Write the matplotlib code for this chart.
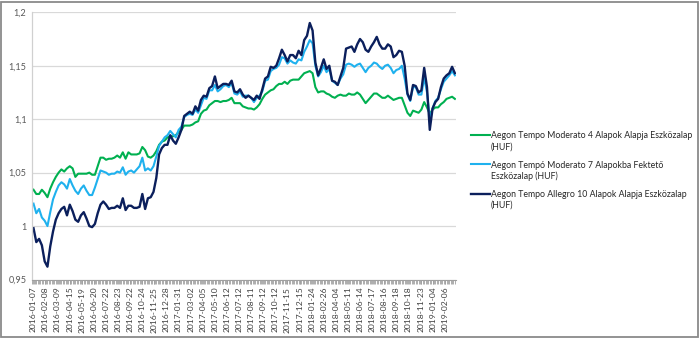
import numpy as np
import matplotlib
matplotlib.use("Agg")
import matplotlib.pyplot as plt
from matplotlib.ticker import FixedLocator, MultipleLocator
from matplotlib.lines import Line2D
from matplotlib.patches import Rectangle

plt.rcParams["font.family"] = ["Lato", "DejaVu Sans"]

# Category labels shown on the x axis (every ~22nd trading day)
date_labels = [
    "2016-01-07", "2016-02-08", "2016-03-09", "2016-04-15", "2016-05-19",
    "2016-06-20", "2016-07-22", "2016-08-23", "2016-09-22", "2016-10-24",
    "2016-11-25", "2016-12-28", "2017-01-31", "2017-03-02", "2017-04-05",
    "2017-05-10", "2017-06-12", "2017-07-12", "2017-08-11", "2017-09-12",
    "2017-10-12", "2017-11-15", "2017-12-15", "2018-01-24", "2018-02-26",
    "2018-04-04", "2018-05-11", "2018-06-14", "2018-07-17", "2018-08-16",
    "2018-09-18", "2018-10-18", "2018-11-23", "2019-01-04", "2019-02-06",
]

series_names = [
    "Aegon Tempo Moderato 4 Alapok Alapja Eszközalap\n(HUF)",
    "Aegon Tempó Moderato 7 Alapokba Fektető\nEszközalap (HUF)",
    "Aegon Tempo Allegro 10 Alapok Alapja Eszközalap\n(HUF)",
]

moderato4 = [
    1.034, 1.030, 1.030, 1.034, 1.031, 1.027, 1.035, 1.041, 1.046, 1.050,
    1.053, 1.051, 1.054, 1.056, 1.054, 1.046, 1.049, 1.049, 1.049, 1.049,
    1.050, 1.048, 1.048, 1.056, 1.064, 1.064, 1.062, 1.063, 1.063, 1.064,
    1.066, 1.064, 1.069, 1.063, 1.069, 1.067, 1.067, 1.067, 1.068, 1.074,
    1.071, 1.065, 1.064, 1.066, 1.070, 1.076, 1.079, 1.080, 1.083, 1.084,
    1.084, 1.085, 1.088, 1.090, 1.094, 1.094, 1.094, 1.095, 1.097, 1.098,
    1.105, 1.108, 1.109, 1.113, 1.115, 1.117, 1.117, 1.116, 1.117, 1.117,
    1.118, 1.120, 1.115, 1.115, 1.115, 1.112, 1.111, 1.110, 1.110, 1.109,
    1.111, 1.114, 1.119, 1.123, 1.125, 1.127, 1.128, 1.131, 1.133, 1.133,
    1.135, 1.133, 1.136, 1.137, 1.137, 1.137, 1.140, 1.143, 1.144, 1.145,
    1.143, 1.130, 1.125, 1.126, 1.126, 1.124, 1.123, 1.121, 1.120, 1.122,
    1.123, 1.122, 1.122, 1.124, 1.123, 1.123, 1.125, 1.123, 1.119, 1.115,
    1.118, 1.121, 1.124, 1.124, 1.122, 1.120, 1.120, 1.122, 1.120, 1.118,
    1.119, 1.120, 1.120, 1.113, 1.106, 1.103, 1.108, 1.107, 1.106, 1.109,
    1.116, 1.111, 1.105, 1.109, 1.111, 1.111, 1.114, 1.116, 1.119, 1.120,
    1.121, 1.119,
]

moderato7 = [
    1.021, 1.012, 1.016, 1.008, 1.005, 1.000, 1.013, 1.025, 1.032, 1.038,
    1.041, 1.039, 1.035, 1.044, 1.038, 1.033, 1.030, 1.035, 1.038, 1.033,
    1.029, 1.029, 1.036, 1.044, 1.052, 1.051, 1.050, 1.048, 1.049, 1.049,
    1.051, 1.050, 1.055, 1.048, 1.051, 1.052, 1.050, 1.053, 1.056, 1.064,
    1.052, 1.054, 1.052, 1.056, 1.065, 1.075, 1.079, 1.083, 1.085, 1.089,
    1.086, 1.083, 1.090, 1.093, 1.102, 1.104, 1.105, 1.104, 1.109, 1.106,
    1.113, 1.120, 1.119, 1.127, 1.127, 1.132, 1.126, 1.128, 1.131, 1.132,
    1.130, 1.134, 1.124, 1.123, 1.126, 1.121, 1.122, 1.122, 1.120, 1.116,
    1.120, 1.122, 1.126, 1.136, 1.137, 1.145, 1.147, 1.148, 1.151, 1.158,
    1.157, 1.152, 1.155, 1.153, 1.152, 1.156, 1.155, 1.163, 1.168, 1.174,
    1.171, 1.150, 1.140, 1.144, 1.150, 1.144, 1.147, 1.136, 1.134, 1.132,
    1.138, 1.142, 1.151, 1.152, 1.151, 1.149, 1.151, 1.152, 1.148, 1.144,
    1.148, 1.150, 1.153, 1.152, 1.149, 1.147, 1.150, 1.151, 1.148, 1.143,
    1.146, 1.147, 1.150, 1.138, 1.123, 1.117, 1.130, 1.130, 1.123, 1.123,
    1.139, 1.125, 1.100, 1.110, 1.117, 1.120, 1.128, 1.135, 1.138, 1.141,
    1.145, 1.141,
]

allegro10 = [
    0.998, 0.985, 0.988, 0.982, 0.967, 0.962, 0.981, 0.995, 1.006, 1.012,
    1.016, 1.018, 1.010, 1.020, 1.014, 1.006, 1.004, 1.010, 1.013, 1.007,
    1.000, 0.999, 1.002, 1.012, 1.020, 1.023, 1.020, 1.016, 1.017, 1.017,
    1.019, 1.017, 1.026, 1.015, 1.019, 1.019, 1.017, 1.017, 1.018, 1.030,
    1.016, 1.026, 1.027, 1.032, 1.045, 1.067, 1.073, 1.076, 1.076, 1.085,
    1.080, 1.077, 1.083, 1.090, 1.103, 1.105, 1.107, 1.105, 1.112, 1.108,
    1.118, 1.122, 1.121, 1.129, 1.131, 1.140, 1.129, 1.131, 1.133, 1.133,
    1.132, 1.136, 1.126, 1.125, 1.128, 1.123, 1.120, 1.122, 1.120, 1.118,
    1.122, 1.119, 1.128, 1.138, 1.140, 1.149, 1.148, 1.150, 1.157, 1.165,
    1.160, 1.154, 1.160, 1.160, 1.157, 1.164, 1.160, 1.174, 1.178, 1.190,
    1.183, 1.153, 1.141, 1.148, 1.156, 1.147, 1.150, 1.136, 1.135, 1.132,
    1.140, 1.148, 1.166, 1.167, 1.168, 1.163, 1.170, 1.175, 1.172, 1.165,
    1.163, 1.168, 1.172, 1.177, 1.170, 1.166, 1.166, 1.170, 1.168, 1.158,
    1.160, 1.164, 1.163, 1.150, 1.124, 1.118, 1.132, 1.131, 1.125, 1.127,
    1.148, 1.130, 1.090, 1.110, 1.116, 1.119, 1.130, 1.138, 1.141, 1.143,
    1.149, 1.143,
]

y_ticks = [0.95, 1.0, 1.05, 1.1, 1.15, 1.2]
y_tick_labels = ["0,95", "1", "1,05", "1,1", "1,15", "1,2"]

colors = ["#00b050", "#1fb1ee", "#0b1f5c"]
widths = [1.5, 1.5, 1.7]

# weekly samples per category-label step
SAMPLES_PER_LABEL = 4.337

fig = plt.figure(figsize=(7.0, 3.38), dpi=100)
ax = fig.add_axes([32 / 700, 1 - 279.5 / 338, 424 / 700, 267.2 / 338])

x = np.arange(len(allegro10))
for vals, c, lw in zip([moderato4, moderato7, allegro10], colors, widths):
    ax.plot(x, vals, color=c, lw=lw, solid_joinstyle="round")

ax.set_xlim(-0.54, len(allegro10) - 0.6)
ax.set_ylim(0.95, 1.2)

ax.set_yticks(y_ticks)
ax.set_yticklabels(y_tick_labels)
ax.yaxis.grid(True, color="#d9d9d9", lw=0.9)
ax.set_axisbelow(True)
ax.tick_params(axis="y", length=0, pad=4, labelsize=6.6, labelcolor="#595959")

tick_pos = np.arange(len(date_labels)) * SAMPLES_PER_LABEL - 0.07
ax.xaxis.set_major_locator(FixedLocator(tick_pos))
ax.set_xticklabels(date_labels, rotation=90)
ax.xaxis.set_minor_locator(MultipleLocator(0.5))
ax.tick_params(axis="x", which="both", length=3.2, width=0.6, color="#a0a0a0",
               labelsize=6.1, labelcolor="#404040", pad=2)

for s in ["top", "right"]:
    ax.spines[s].set_visible(False)
ax.spines["left"].set_color("#d0d0d0")
ax.spines["left"].set_linewidth(0.9)
ax.spines["bottom"].set_color("#a0a0a0")
ax.spines["bottom"].set_linewidth(0.8)

# legend to the right of the plot area, each label line placed separately
leg_x0, leg_x1, leg_tx = 471 / 700, 490 / 700, 491 / 700
leg_y = [135, 164, 193.5]
line_gap = 10.8
for name, c, lw, yy in zip(series_names, colors, widths, leg_y):
    yf = 1 - yy / 338
    fig.add_artist(Line2D([leg_x0, leg_x1], [yf, yf], color=c, lw=lw,
                          transform=fig.transFigure))
    for k, part in enumerate(name.split("\n")):
        fig.text(leg_tx, 1 - (yy + k * line_gap) / 338, part, ha="left",
                 va="center_baseline", fontsize=6.3, color="#262626")

# chart frame
fig.add_artist(Rectangle((0.7 / 700, 1.5 / 338), 697.6 / 700, 334.5 / 338,
                         transform=fig.transFigure, fill=False,
                         edgecolor="#8a8a8a", lw=1.3))

fig.savefig("out.png", dpi=100)
